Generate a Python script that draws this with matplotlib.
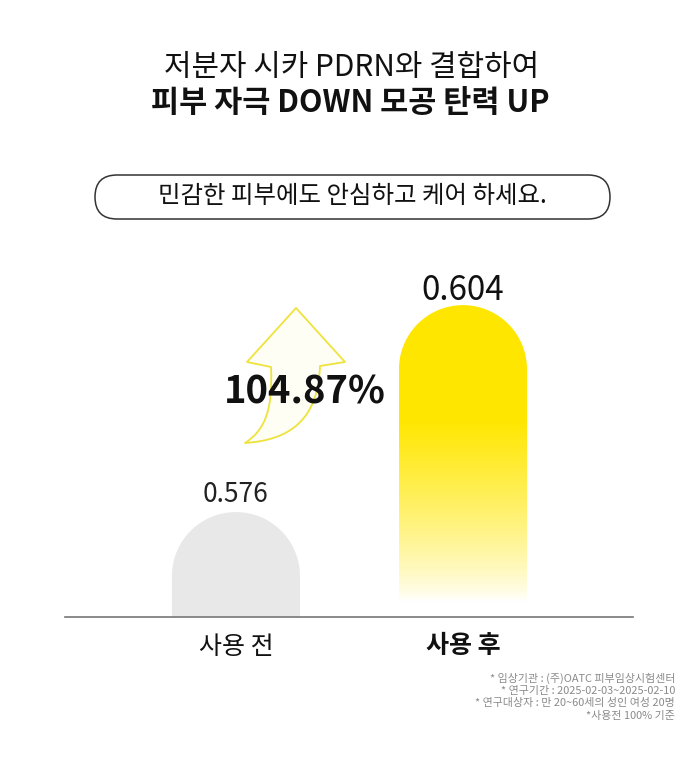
import numpy as np
import matplotlib
matplotlib.use("Agg")
import matplotlib.pyplot as plt
from matplotlib.patches import PathPatch, FancyBboxPatch
from matplotlib.path import Path

plt.rcParams['font.family'] = ['Noto Sans CJK KR', 'DejaVu Sans']

# data
categories = ['사용 전', '사용 후']
values = [0.576, 0.604]
value_labels = ['0.576', '0.604']
increase_label = '104.87%'
title_line1 = '저분자 시카 PDRN와 결합하여'
title_line2 = '피부 자극 DOWN 모공 탄력 UP'
pill_text = '민감한 피부에도 안심하고 케어 하세요.'
notes = ['* 임상기관 : (주)OATC 피부임상시험센터',
         '* 연구기간 : 2025-02-03~2025-02-10',
         '* 연구대상자 : 만 20~60세의 성인 여성 20명',
         '*사용전 100% 기준']

W, H = 700, 767
fig = plt.figure(figsize=(W / 100, H / 100), dpi=100)
fig.patch.set_facecolor('white')

# background overlay in pixel units (titles, pill, arrow, notes)
bg = fig.add_axes([0, 0, 1, 1])
bg.set_xlim(0, W)
bg.set_ylim(H, 0)
bg.axis('off')

bg.text(352, 67, title_line1, ha='center', va='center', fontsize=21.5, color='#111111')
bg.text(350, 103, title_line2, ha='center', va='center', fontsize=22,
        fontweight='bold', color='#111111')

pill = FancyBboxPatch((95, 175), 515, 44, boxstyle='round,pad=0,rounding_size=22',
                      facecolor='white', edgecolor='#333333', linewidth=1.1)
bg.add_patch(pill)
bg.text(352, 196, pill_text, ha='center', va='center', fontsize=17.6, color='#111111')

# decorative curved arrow
verts = [(296, 308), (345, 362), (320, 366),
         (318, 420), (290, 440), (245, 443),
         (265, 430), (273, 410), (271, 367),
         (247, 362), (296, 308)]
codes = [Path.MOVETO, Path.LINETO, Path.LINETO,
         Path.CURVE4, Path.CURVE4, Path.CURVE4,
         Path.CURVE4, Path.CURVE4, Path.CURVE4,
         Path.LINETO, Path.CLOSEPOLY]
bg.add_patch(PathPatch(Path(verts, codes), facecolor='#FFFEF4', edgecolor='#EEE33C',
                       linewidth=1.3, joinstyle='round'))
bg.text(305, 392, increase_label, ha='center', va='center', fontsize=27.5,
        fontweight='bold', color='#111111', zorder=5)

for i, line in enumerate(notes):
    bg.text(675, 678 + i * 12.7, line, ha='right', va='center', fontsize=7.9, color='#8a8a8a')

# chart axes
ax = fig.add_axes([65 / W, (H - 617) / H, 568 / W, 337 / H])
ax.patch.set_alpha(0)
base = 0.5618
ax.set_xlim(-0.753, 1.749)
ax.set_ylim(base, 0.6074)
width = 0.564

# pixel scale to make semicircular tops
bbox = ax.get_window_extent()
px_x = bbox.width / (ax.get_xlim()[1] - ax.get_xlim()[0])
px_y = bbox.height / (ax.get_ylim()[1] - ax.get_ylim()[0])


def rounded_bar(x, h):
    rx = width / 2
    ry = rx * px_x / px_y
    theta = np.linspace(np.pi, 0, 60)
    pts = [(x - rx, base), (x - rx, h - ry)]
    pts += list(zip(x + rx * np.cos(theta), h - ry + ry * np.sin(theta)))
    pts += [(x + rx, h - ry), (x + rx, base), (x - rx, base)]
    return Path(pts, closed=True)


xs = np.arange(len(categories))

# before bar: flat gray
ax.add_patch(PathPatch(rounded_bar(xs[0], values[0]), facecolor='#E8E8E8',
                       edgecolor='none'))

# after bar: yellow fading to white
patch = PathPatch(rounded_bar(xs[1], values[1]), facecolor='none', edgecolor='none')
ax.add_patch(patch)
t = np.linspace(0, 1, 300)
a = np.clip((t - 0.05) / 0.58, 0, 1) ** 0.8
yellow = np.array([1.0, 0.905, 0.0])
grad = np.ones((len(t), 1, 3)) * (1 - a)[:, None, None] + yellow * a[:, None, None]
im = ax.imshow(grad, extent=[xs[1] - width / 2, xs[1] + width / 2, base, values[1]],
               origin='lower', aspect='auto', interpolation='bilinear')
im.set_clip_path(patch)
ax.set_xlim(-0.753, 1.749)
ax.set_ylim(base, 0.6074)

# value labels
ax.annotate(value_labels[0], (xs[0], values[0]), xytext=(0, 7), textcoords='offset points',
            ha='center', va='baseline', fontsize=19, color='#222222')
ax.annotate(value_labels[1], (xs[1], values[1]), xytext=(0, 4), textcoords='offset points',
            ha='center', va='baseline', fontsize=24, fontweight='medium', color='#111111')

ax.set_xticks(xs)
ax.set_xticklabels(categories, fontsize=18, color='#111111')
ax.get_xticklabels()[1].set_fontweight('bold')
ax.tick_params(axis='x', length=0, pad=12)
ax.set_yticks([])
for s in ['top', 'left', 'right']:
    ax.spines[s].set_visible(False)
ax.spines['bottom'].set_color('#777777')
ax.spines['bottom'].set_linewidth(1.2)

fig.savefig('out.png', dpi=100)
